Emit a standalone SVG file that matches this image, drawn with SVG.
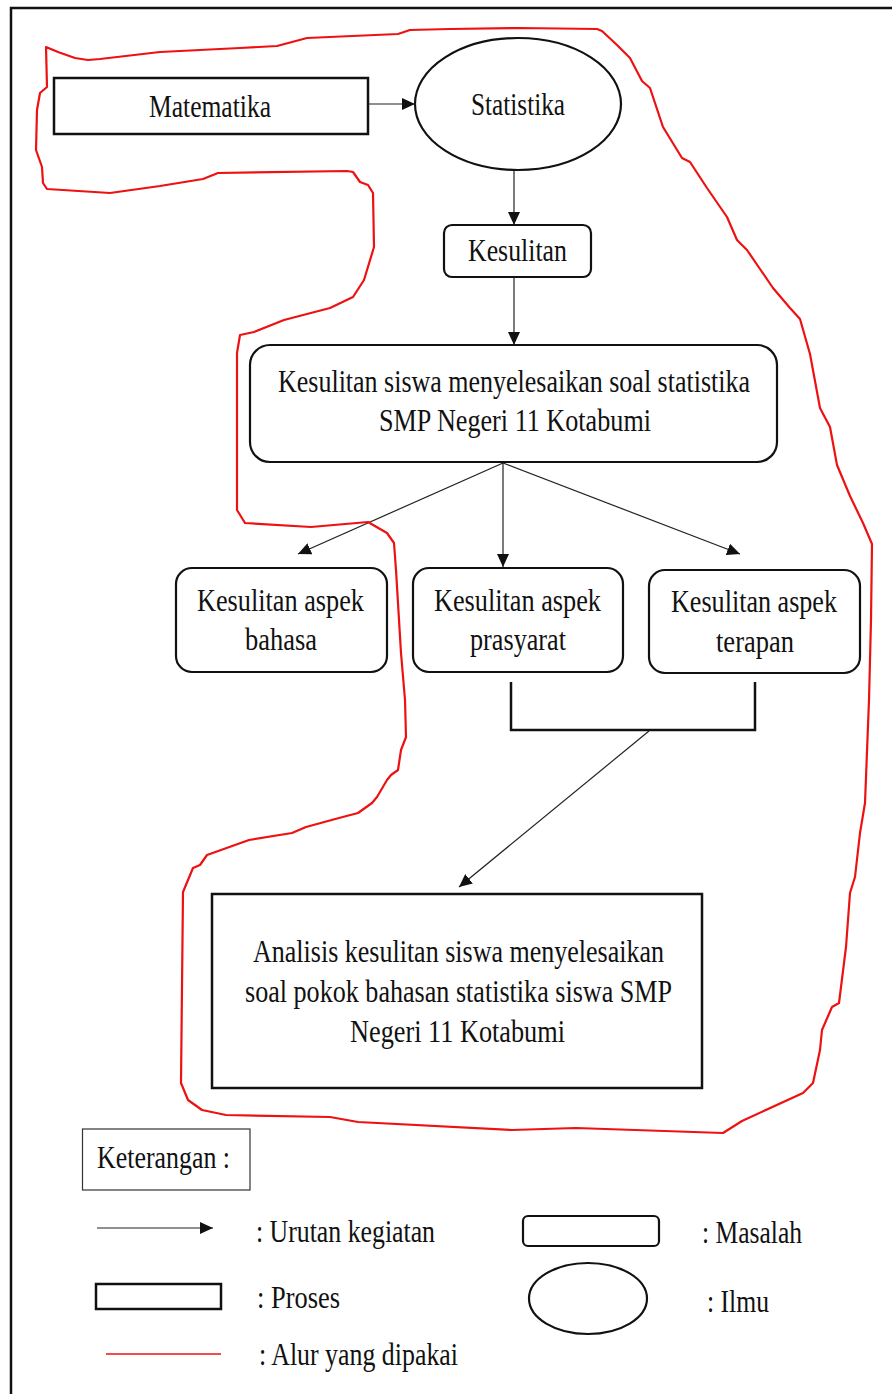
<svg xmlns="http://www.w3.org/2000/svg" width="892" height="1394" viewBox="0 0 892 1394">
<style>
text{font-family:"Liberation Serif","Times New Roman",serif;font-size:31px;fill:#111}
.box{fill:#fff;stroke:#111;stroke-width:2.5}
.rbox{fill:#fff;stroke:#111;stroke-width:2.2}
.ln{stroke:#222;stroke-width:1.2;fill:none}
.red{fill:none;stroke:#ee1111;stroke-width:2.2;stroke-linejoin:round}
</style>
<defs>
<marker id="ah" markerWidth="13" markerHeight="12" refX="13" refY="6" orient="auto" markerUnits="userSpaceOnUse">
<path d="M0,0 L13,6 L0,12 Z" fill="#111"/>
</marker>
</defs>
<rect width="892" height="1394" fill="#fff"/>
<path d="M11,1394 V8 H892" fill="none" stroke="#111" stroke-width="2.5"/>

<g id="nodes">
<g id="matematika">
<rect class="box" x="54" y="78" width="314" height="56"/>
<text x="149" y="117" textLength="122" lengthAdjust="spacingAndGlyphs">Matematika</text>
</g>
<g id="statistika">
<ellipse class="rbox" cx="518" cy="104" rx="103" ry="66"/>
<text x="471" y="115" textLength="94" lengthAdjust="spacingAndGlyphs">Statistika</text>
</g>
<g id="kesulitan">
<rect class="rbox" x="444" y="225" width="147" height="52" rx="8"/>
<text x="468" y="261" textLength="99" lengthAdjust="spacingAndGlyphs">Kesulitan</text>
</g>
<g id="kesulitan-siswa">
<rect class="rbox" x="250" y="345" width="527" height="117" rx="20"/>
<text x="278" y="392" textLength="472" lengthAdjust="spacingAndGlyphs">Kesulitan siswa menyelesaikan soal statistika</text>
<text x="379" y="431" textLength="272" lengthAdjust="spacingAndGlyphs">SMP Negeri 11 Kotabumi</text>
</g>
<g id="aspek-bahasa">
<rect class="rbox" x="176" y="568" width="211" height="104" rx="16"/>
<text x="197" y="611" textLength="167" lengthAdjust="spacingAndGlyphs">Kesulitan aspek</text>
<text x="245" y="650" textLength="72" lengthAdjust="spacingAndGlyphs">bahasa</text>
</g>
<g id="aspek-prasyarat">
<rect class="rbox" x="413" y="568" width="210" height="104" rx="16"/>
<text x="434" y="611" textLength="167" lengthAdjust="spacingAndGlyphs">Kesulitan aspek</text>
<text x="470" y="650" textLength="96" lengthAdjust="spacingAndGlyphs">prasyarat</text>
</g>
<g id="aspek-terapan">
<rect class="rbox" x="649" y="570" width="211" height="103" rx="16"/>
<text x="671" y="612" textLength="166" lengthAdjust="spacingAndGlyphs">Kesulitan aspek</text>
<text x="716" y="652" textLength="78" lengthAdjust="spacingAndGlyphs">terapan</text>
</g>
<g id="analisis">
<rect class="box" x="212" y="894" width="490" height="194"/>
<text x="253" y="962" textLength="411" lengthAdjust="spacingAndGlyphs">Analisis kesulitan siswa menyelesaikan</text>
<text x="245" y="1002" textLength="427" lengthAdjust="spacingAndGlyphs">soal pokok bahasan statistika siswa SMP</text>
<text x="350" y="1042" textLength="215" lengthAdjust="spacingAndGlyphs">Negeri 11 Kotabumi</text>
</g>
</g>

<g id="connectors">
<line class="ln" x1="368" y1="104" x2="415" y2="104" marker-end="url(#ah)"/>
<line class="ln" x1="514" y1="170" x2="514" y2="225" marker-end="url(#ah)"/>
<line class="ln" x1="514" y1="277" x2="514" y2="345" marker-end="url(#ah)"/>
<line class="ln" x1="503" y1="463" x2="298" y2="554" marker-end="url(#ah)"/>
<line class="ln" x1="503" y1="463" x2="503" y2="567" marker-end="url(#ah)"/>
<line class="ln" x1="503" y1="463" x2="740" y2="554" marker-end="url(#ah)"/>
<path d="M511,682 V730 H755 V682" fill="none" stroke="#111" stroke-width="2.5"/>
<line class="ln" x1="649" y1="731" x2="459" y2="887" marker-end="url(#ah)"/>
</g>

<g id="alur">
<path class="red" d="M46,47 L58,52 L75,58 L88,60 L100,59 L160,52 L240,48 L277,46 L292,42 L307,38 L398,34 L410,30 L450,29 L520,28 L597,29 L602,31 L617,45 L630,58 L642,81 L650,88 L663,127 L682,158 L690,162 L707,188 L727,217 L737,240 L747,250 L760,269 L773,288 L790,308 L800,319 L810,354 L820,408 L830,427 L837,465 L850,496 L863,523 L872,544 L871,620 L869,700 L865,803 L860,833 L855,877 L850,893 L846,947 L839,1003 L832,1007 L822,1030 L820,1050 L813,1083 L803,1093 L742,1121 L723,1133 L576,1128 L512,1130 L358,1122 L330,1117 L226,1115 L202,1110 L188,1100 L181,1083 L183,892 L193,868 L200,865 L207,855 L249,840 L292,833 L306,827 L339,818 L358,813 L372,803 L377,797 L387,780 L391,775 L398,770 L401,750 L406,737 L405,700 L401,653 L396,570 L394,543 L387,533 L368,522 L311,527 L245,523 L237,510 L237,353 L240,335 L254,332 L284,320 L330,308 L353,297 L364,280 L374,247 L373,193 L368,185 L360,182 L353,172 L347,171 L218,173 L203,179 L160,186 L110,193 L47,189 L43,183 L42,167 L36,150 L37,110 L40,93 L47,87 Z"/>
</g>

<g id="legend">
<rect x="82.5" y="1129" width="167.5" height="61" fill="#fff" stroke="#333" stroke-width="1.2"/>
<text x="97" y="1168" textLength="133" lengthAdjust="spacingAndGlyphs">Keterangan :</text>
<line class="ln" x1="97" y1="1228" x2="213" y2="1228" marker-end="url(#ah)"/>
<text x="256" y="1242" textLength="179" lengthAdjust="spacingAndGlyphs">: Urutan kegiatan</text>
<rect class="rbox" x="523" y="1216" width="136" height="30" rx="5"/>
<text x="702" y="1243" textLength="100" lengthAdjust="spacingAndGlyphs">: Masalah</text>
<rect class="box" x="96" y="1284" width="125" height="25"/>
<text x="257" y="1308" textLength="83" lengthAdjust="spacingAndGlyphs">: Proses</text>
<ellipse class="rbox" cx="588" cy="1298.5" rx="59" ry="35.5"/>
<text x="707" y="1312" textLength="62" lengthAdjust="spacingAndGlyphs">: Ilmu</text>
<line x1="106" y1="1354" x2="221" y2="1354" stroke="#ee1111" stroke-width="1.5"/>
<text x="259" y="1365" textLength="199" lengthAdjust="spacingAndGlyphs">: Alur yang dipakai</text>
</g>
</svg>
